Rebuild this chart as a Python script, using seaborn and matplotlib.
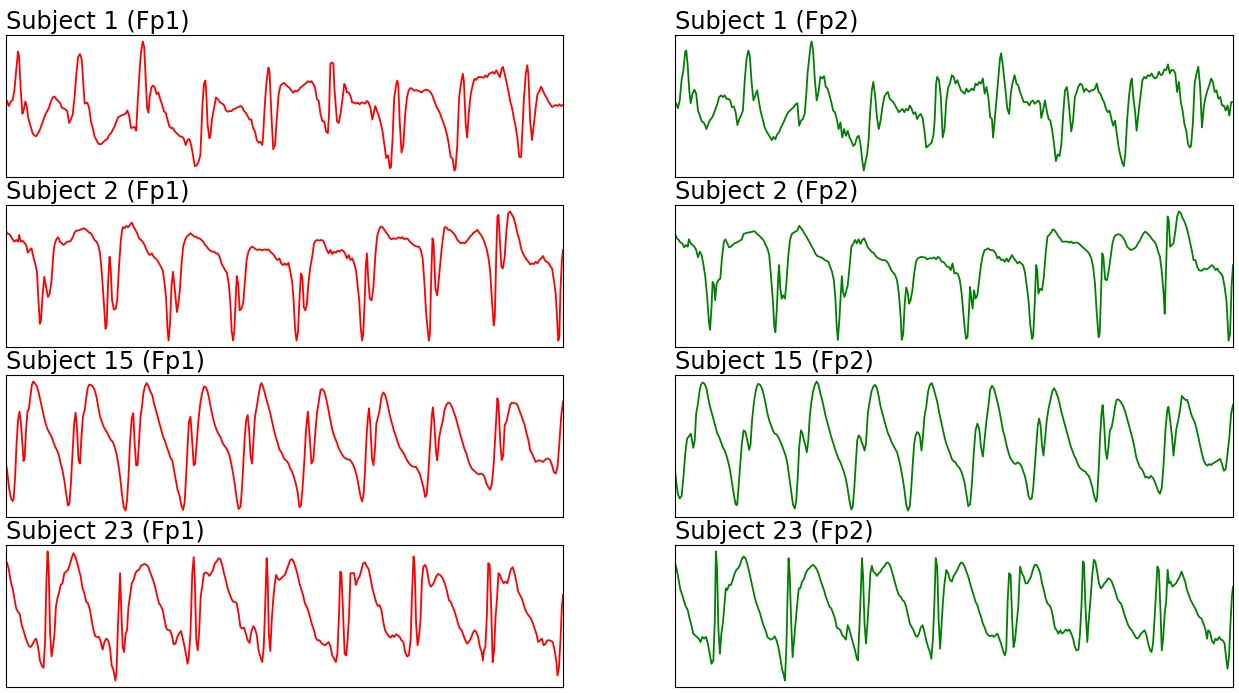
import numpy as np
import matplotlib
matplotlib.use("Agg")
import matplotlib.pyplot as plt
import seaborn as sns

# ---- data (sample index, screen depth) ----
s1_fp1_x = [17,20,25,30,35,40,45,50,53,57,62,66,70,74,78,82,86,90,95,100,105,110,115,120,125,130,135,140,145,150,155,160,165,170,175,180,185,190,195,200,205,210,215,220,225,230,233,240,245,250,255,260,265,270,275,280,285,290,295,300,305,310,315,320,325,330,335,340,345,350,355,360,365,370,374,378,383,387,392,396,400,404,408,411,416,420,425,430,435,440,445,450,455,460,465,470,475,480,485,490,495,500,505,510,515,520,525,530,535,540,545,550,553,556,560,564,567,570,575,578,582,588,593,598,605,610,615,620,625,630,635,640,645,650,655,660,665,670,675,680,685,690,695,700,705,710,715,720,722,727,732,737,740,745,750,755,760,765,770,775,780,785,790,795,800,805,810,815,820,825,830,835,840,845,850,855,860,865,870,875,880,885,890,895,900,903,907,911,915,918,925,930,935,940,945,948,952,957,962,967,972,977,982,987,992,997,1002,1007,1012,1017,1022,1026,1030,1035,1040,1045,1050,1055,1060,1065,1070,1073,1077,1082,1087,1090,1093,1097,1102,1107,1112,1117,1122,1127,1132,1137,1142,1147,1152,1157,1162,1167,1172,1177,1182,1187,1192,1197,1202,1207,1212,1217,1222,1227,1232,1237,1242,1247,1250,1255,1260,1265,1270,1273,1278,1282,1287,1292,1297,1302,1307,1312,1317,1322,1327,1332,1337,1342,1347,1352,1357,1362,1367,1372,1377,1380,1385,1390,1395,1400,1405,1410,1415,1420,1425,1430,1433,1438,1443,1447,1450,1455,1460,1465,1470,1475,1480,1485,1490,1495,1500,1505,1510,1515,1520,1525,1530,1535,1540,1545]
s1_fp1_d = [228,210,225,212,208,180,120,65,80,170,248,235,212,225,260,275,290,305,312,314,305,295,280,265,250,240,230,212,200,197,205,210,215,230,232,235,240,275,265,250,200,130,80,72,90,175,218,215,230,270,290,315,325,335,338,336,330,325,322,310,305,295,285,270,258,255,252,250,248,238,255,290,288,287,298,220,130,70,35,50,140,230,245,200,170,165,170,190,185,205,220,240,245,265,285,290,290,300,305,310,315,315,322,340,325,322,340,370,402,400,390,370,300,220,160,150,200,280,320,310,265,230,200,205,215,218,222,237,242,240,240,235,233,230,228,225,228,240,245,255,265,265,290,300,325,333,330,340,320,220,150,112,125,250,352,340,260,190,165,160,157,163,168,172,180,186,180,182,178,170,167,162,158,152,155,152,160,172,205,210,250,270,270,300,305,250,100,97,100,175,270,275,245,205,160,165,185,185,195,215,215,218,215,220,215,215,218,210,215,232,265,245,225,240,255,275,300,340,378,370,408,405,330,200,165,150,160,270,362,340,250,200,178,172,175,180,178,180,182,185,180,178,177,180,185,195,210,225,235,245,260,275,290,310,340,375,380,415,410,340,200,160,130,150,275,318,240,190,165,145,148,140,140,140,142,135,140,130,128,125,130,120,130,140,115,110,130,155,180,210,230,260,285,320,375,375,310,200,130,105,130,270,325,280,230,190,182,168,180,192,200,212,220,228,225,222,225,220,225,222]

s1_fp2_x = [17,20,25,30,35,40,45,48,52,56,60,65,70,75,80,85,90,95,100,103,108,113,118,123,128,133,138,143,148,153,158,163,168,173,178,183,188,193,198,203,208,213,218,222,227,232,237,242,247,252,257,262,267,272,277,282,287,292,297,302,307,312,317,322,327,332,337,342,347,352,357,362,367,372,376,380,384,388,391,395,400,405,410,415,420,425,430,435,440,445,450,455,460,465,470,475,480,485,490,495,500,505,510,515,520,525,530,534,538,543,547,551,556,560,565,570,575,580,585,590,595,600,605,610,615,620,625,630,635,640,645,650,655,660,665,670,675,680,685,690,695,700,705,710,715,720,725,728,732,735,740,745,750,755,760,765,770,775,780,785,790,795,800,805,810,815,820,825,830,835,840,845,850,855,860,865,870,875,880,885,888,892,898,903,907,910,914,918,922,927,932,937,942,947,952,957,962,967,972,977,982,987,992,997,1002,1007,1012,1017,1020,1025,1030,1035,1040,1045,1050,1055,1060,1065,1070,1075,1080,1085,1090,1093,1097,1102,1107,1112,1117,1122,1127,1132,1137,1142,1147,1152,1157,1162,1167,1172,1177,1182,1187,1192,1197,1202,1207,1212,1217,1222,1227,1232,1237,1242,1246,1250,1255,1260,1265,1268,1272,1277,1281,1287,1292,1297,1302,1307,1312,1317,1322,1327,1332,1337,1342,1347,1352,1357,1362,1367,1372,1377,1382,1387,1392,1397,1402,1407,1412,1417,1422,1427,1430,1435,1440,1445,1450,1455,1460,1465,1470,1475,1480,1485,1490,1495,1500,1505,1510,1515,1520,1525,1530,1535,1540,1545]
s1_fp2_d = [225,218,233,210,150,120,65,62,110,180,218,190,178,190,240,255,272,275,285,295,280,268,262,250,235,220,200,195,200,195,205,205,210,230,228,245,283,265,255,240,150,85,62,80,160,210,195,180,215,245,265,288,300,310,318,328,318,325,310,305,290,280,268,255,245,240,235,230,222,218,285,270,265,250,200,130,90,50,35,60,150,210,185,140,145,138,170,175,195,215,240,245,265,295,275,320,295,315,300,320,330,345,340,320,315,340,390,418,395,370,330,250,180,155,195,260,295,270,230,200,190,185,205,210,215,225,235,245,240,235,245,235,240,225,235,250,245,265,255,250,262,300,350,345,340,335,310,270,160,140,150,200,320,295,210,172,160,135,140,160,150,165,180,185,190,175,185,180,175,180,160,165,155,160,145,190,170,200,260,265,320,275,200,140,85,70,100,140,180,235,250,185,155,135,160,165,185,200,215,215,215,225,215,210,220,215,210,220,262,240,210,240,265,270,300,340,390,370,375,340,250,180,170,195,240,302,270,200,185,168,160,165,185,175,180,185,180,180,175,160,185,190,205,215,235,245,240,265,285,270,310,350,375,395,405,370,270,200,155,145,200,245,300,240,195,150,140,145,135,138,130,140,145,140,125,135,132,118,120,103,130,120,120,130,185,155,215,240,280,300,340,350,345,280,160,130,110,170,290,230,200,180,165,145,155,185,180,205,200,225,225,240,225,255,215,215]

s2_fp1_x = [17,20,25,30,35,40,45,50,53,57,62,67,72,77,82,87,92,97,102,106,110,113,117,122,127,132,137,142,147,150,155,160,165,170,175,180,185,190,195,200,205,210,215,220,225,230,235,240,245,250,255,260,265,270,275,280,285,290,293,297,301,304,308,313,318,322,327,332,337,342,347,352,357,362,367,372,377,382,387,392,397,402,407,412,417,422,427,432,437,442,447,452,456,460,463,467,471,475,478,482,486,490,494,498,503,508,513,518,523,528,533,538,543,548,553,558,563,568,573,578,583,588,593,598,603,608,613,618,623,628,632,636,640,643,647,650,654,658,663,668,672,677,682,687,692,697,702,707,712,717,722,727,732,737,742,747,752,757,762,767,772,777,782,787,792,797,802,806,810,814,818,822,826,830,834,838,842,847,852,857,862,867,872,877,882,887,892,897,902,907,912,917,922,927,932,937,942,947,952,957,962,967,972,977,982,986,990,994,997,1001,1004,1007,1011,1015,1020,1025,1030,1035,1040,1045,1050,1055,1060,1065,1070,1075,1080,1085,1090,1095,1100,1105,1110,1115,1120,1125,1130,1135,1140,1145,1150,1155,1160,1165,1169,1173,1177,1180,1183,1187,1190,1195,1200,1205,1210,1215,1220,1225,1230,1235,1240,1245,1250,1255,1260,1265,1270,1275,1280,1285,1290,1295,1300,1305,1310,1315,1320,1325,1330,1335,1340,1345,1350,1355,1358,1362,1365,1368,1372,1376,1380,1385,1390,1395,1400,1405,1410,1415,1420,1425,1430,1435,1440,1445,1450,1455,1460,1465,1470,1475,1480,1485,1490,1495,1500,1505,1510,1515,1520,1525,1528,1532,1535,1538,1542,1545]
s2_fp1_d = [92,100,102,108,118,125,120,125,105,125,122,128,135,158,150,145,170,190,215,300,370,360,290,230,260,290,280,240,160,135,118,112,125,130,135,130,125,125,122,112,98,92,92,90,88,85,88,92,98,100,110,120,125,135,160,220,300,385,375,250,170,200,300,328,325,300,200,120,82,85,78,82,75,68,80,90,100,115,120,125,135,148,160,165,160,170,175,180,190,200,210,250,290,385,420,370,260,215,245,290,335,310,270,200,140,120,110,105,100,105,110,110,115,115,120,125,135,140,148,152,155,155,160,160,170,190,200,210,218,250,300,390,420,395,300,228,250,330,325,305,250,180,155,145,140,143,148,150,148,150,150,148,150,148,155,160,165,175,180,175,190,195,190,195,188,215,245,300,385,420,395,300,220,230,320,330,315,245,200,170,130,122,120,122,120,122,135,150,160,150,162,155,158,152,155,150,152,160,175,165,180,175,190,210,260,300,380,420,400,300,200,160,240,295,300,260,170,110,90,80,82,90,98,105,115,118,115,117,115,112,115,112,118,115,118,125,130,135,138,140,140,150,175,250,330,380,420,400,250,115,130,265,285,230,170,120,82,82,90,90,95,100,108,120,125,130,128,130,125,118,110,105,98,95,90,98,105,115,128,145,170,210,300,375,350,160,50,45,120,200,205,170,90,40,35,45,55,75,100,118,145,160,170,178,185,193,190,192,185,190,180,175,168,180,185,188,198,205,240,280,340,420,410,270,180,150]

s2_fp2_x = [17,22,27,32,37,42,47,52,55,60,65,70,75,80,85,90,95,100,105,110,113,117,120,124,127,131,136,141,146,151,155,160,165,170,175,180,185,190,195,200,205,210,215,220,225,230,235,240,245,250,255,260,265,270,275,280,285,289,292,296,300,302,305,309,313,318,322,327,332,337,342,347,352,357,362,367,372,377,382,387,392,397,402,407,412,417,422,427,432,437,442,447,452,456,460,463,467,471,474,477,481,485,490,495,500,505,510,515,520,525,530,535,540,545,550,555,560,565,570,575,580,585,590,595,600,605,610,615,620,625,630,635,638,642,646,650,654,658,662,667,672,677,682,687,692,697,702,707,712,717,722,727,732,737,742,747,752,757,762,767,772,777,782,787,792,797,802,806,810,814,818,822,825,828,832,836,840,845,850,855,860,865,870,875,880,885,890,895,900,905,910,915,920,925,930,935,940,945,950,955,960,965,970,975,980,985,990,995,998,1002,1006,1009,1012,1017,1022,1027,1032,1037,1042,1047,1052,1057,1062,1067,1072,1077,1082,1087,1092,1097,1102,1107,1112,1117,1122,1127,1132,1137,1142,1147,1152,1157,1162,1167,1172,1177,1180,1183,1187,1190,1195,1200,1205,1210,1215,1220,1225,1230,1235,1240,1245,1250,1255,1260,1265,1270,1275,1280,1285,1290,1295,1300,1305,1310,1315,1320,1325,1330,1335,1340,1345,1350,1355,1358,1362,1366,1369,1373,1377,1382,1387,1392,1397,1402,1407,1412,1417,1422,1427,1432,1437,1442,1447,1452,1457,1462,1467,1472,1477,1482,1487,1492,1497,1502,1507,1512,1517,1522,1527,1530,1533,1537,1541,1545]
s2_fp2_d = [102,115,120,128,130,142,135,140,118,130,135,140,150,172,155,165,195,230,290,365,388,320,245,255,300,250,240,235,170,125,118,130,142,140,135,130,128,125,122,118,102,100,98,98,96,95,94,100,105,110,115,122,135,145,165,230,300,380,395,320,225,195,260,295,285,295,250,170,120,102,98,95,92,78,85,92,102,110,120,130,140,150,162,168,170,172,175,180,182,185,200,215,240,290,380,418,360,280,228,275,290,275,255,200,140,132,120,130,118,132,120,115,128,142,148,155,158,165,172,175,178,180,180,182,188,200,212,218,225,240,280,350,418,400,310,262,275,310,300,270,220,185,175,172,170,172,172,178,175,175,175,172,178,170,175,185,185,192,200,200,210,190,220,218,222,240,280,330,380,415,410,330,260,290,325,270,295,285,240,195,165,150,148,145,150,150,152,160,175,170,180,178,185,175,185,175,165,175,182,190,185,190,195,215,255,300,375,415,405,310,195,210,280,265,270,230,160,110,105,98,88,92,100,110,115,125,125,125,125,128,125,130,128,128,130,135,140,145,150,155,162,175,200,250,340,410,400,300,160,170,238,240,210,170,130,110,105,103,104,108,115,125,140,145,150,148,145,140,130,122,110,100,95,100,105,112,120,125,135,155,170,215,280,340,200,50,60,140,135,130,95,50,35,40,55,65,80,100,125,150,180,180,200,210,212,210,205,208,205,200,195,200,210,205,215,220,230,260,300,360,420,400,260,195]

s15_fp1_x = [17,20,25,30,35,38,42,46,50,54,58,62,65,68,72,76,80,84,88,92,97,102,107,112,117,122,127,132,137,142,147,152,157,162,167,172,177,182,187,191,195,200,204,208,212,216,220,224,228,233,237,241,245,250,255,260,265,270,275,280,285,290,295,300,305,310,315,320,325,330,335,340,345,349,353,357,362,366,370,374,378,382,386,390,394,398,403,408,413,418,423,428,433,438,443,448,453,458,463,468,473,478,483,488,493,498,503,507,511,515,519,523,527,532,536,540,545,550,555,560,565,570,575,580,585,590,595,600,605,610,615,620,625,630,635,640,645,650,655,660,664,668,672,676,680,684,688,692,696,700,705,710,715,718,722,727,732,737,742,747,752,757,762,767,772,777,782,787,792,797,802,807,812,817,822,826,830,835,840,845,850,855,860,865,870,875,880,885,890,895,900,905,910,915,920,925,930,935,940,945,950,955,960,965,970,975,980,985,990,994,998,1002,1006,1010,1013,1017,1021,1025,1029,1033,1038,1042,1047,1052,1057,1062,1067,1072,1077,1082,1087,1092,1097,1102,1107,1112,1117,1122,1127,1132,1137,1142,1147,1152,1157,1162,1167,1171,1175,1180,1185,1188,1192,1197,1200,1205,1210,1215,1220,1225,1230,1235,1240,1245,1250,1255,1260,1265,1270,1275,1280,1285,1290,1295,1300,1305,1310,1315,1320,1325,1330,1335,1340,1345,1350,1355,1360,1365,1368,1373,1377,1381,1385,1390,1395,1400,1405,1410,1415,1420,1425,1430,1435,1440,1445,1450,1455,1460,1465,1470,1475,1480,1485,1490,1495,1500,1505,1510,1515,1520,1525,1530,1535,1540,1545]
s15_fp1_d = [280,300,350,380,392,385,320,220,150,125,160,220,272,265,180,125,115,80,45,35,42,50,70,95,120,145,165,180,190,200,215,230,240,255,280,300,330,370,405,400,340,240,160,128,180,270,280,200,140,120,85,55,45,45,50,60,80,110,140,155,170,180,188,200,210,215,230,250,280,320,370,410,420,390,320,220,145,130,220,285,285,210,140,110,70,50,40,50,65,75,100,120,140,160,180,200,212,230,245,262,270,300,330,360,375,405,418,395,320,230,155,140,200,285,280,220,150,100,70,50,52,65,90,120,145,165,180,192,200,215,225,232,242,255,280,310,345,385,415,410,360,280,200,150,135,180,260,280,210,140,110,75,45,40,50,70,90,110,130,155,180,200,218,238,245,258,268,272,280,295,305,320,340,365,410,405,360,280,180,125,200,280,270,195,130,95,60,58,65,85,110,140,168,190,205,218,235,245,255,262,265,268,268,275,285,300,320,350,380,393,370,300,200,140,115,175,265,285,240,160,140,120,80,68,75,95,120,145,165,185,200,218,232,240,248,258,270,278,285,288,290,290,300,310,330,350,380,372,320,230,140,112,160,250,270,205,175,155,120,105,98,100,110,125,140,160,180,200,218,238,250,270,285,295,300,305,310,312,310,312,320,340,350,358,340,280,180,85,100,220,270,255,165,155,130,105,98,100,100,105,120,135,150,165,190,210,240,250,262,275,272,270,272,275,270,265,265,270,285,305,310,290,220,140,95]

s15_fp2_x = [17,20,25,30,35,40,45,50,55,60,63,67,71,75,80,84,88,93,98,103,108,113,118,123,128,133,138,143,148,153,158,163,168,173,178,183,187,191,195,200,205,210,215,220,224,228,233,237,241,245,250,255,260,265,270,275,280,285,290,295,300,305,310,315,320,325,330,335,340,345,349,353,357,362,366,370,374,378,382,386,390,395,400,405,410,415,420,425,430,435,440,445,450,455,460,465,470,475,480,485,490,495,500,504,508,512,516,520,524,528,532,536,540,545,550,555,560,565,570,575,580,585,590,595,600,605,610,615,620,625,630,635,640,645,650,655,660,664,668,672,676,680,684,688,692,696,700,705,710,715,720,725,730,735,740,745,750,755,760,765,770,775,780,785,790,795,800,805,810,815,820,825,830,835,840,845,850,855,860,865,870,875,880,885,890,895,900,905,910,915,920,925,930,935,940,945,950,955,960,965,970,975,980,985,990,994,998,1002,1006,1010,1014,1018,1022,1026,1030,1035,1040,1045,1050,1055,1060,1065,1070,1075,1080,1085,1090,1095,1100,1105,1110,1115,1120,1125,1130,1135,1140,1145,1150,1155,1160,1165,1170,1173,1177,1181,1185,1188,1192,1196,1200,1204,1208,1213,1218,1222,1226,1230,1235,1240,1245,1250,1255,1260,1265,1270,1275,1280,1285,1290,1295,1300,1305,1310,1315,1320,1325,1330,1335,1340,1345,1350,1355,1360,1365,1368,1373,1378,1382,1386,1390,1395,1400,1405,1410,1415,1420,1425,1430,1435,1440,1445,1450,1455,1460,1465,1470,1475,1480,1485,1490,1495,1500,1505,1510,1515,1520,1525,1530,1535,1540,1545]
s15_fp2_d = [295,330,370,382,375,320,250,205,198,190,205,232,210,130,100,65,45,38,42,55,85,110,130,150,170,190,200,215,230,240,255,275,300,335,370,400,402,350,290,220,180,185,210,238,220,150,100,70,50,42,45,55,75,100,130,150,165,180,190,192,200,212,225,240,255,280,320,360,400,412,390,320,230,180,188,210,225,245,210,140,100,65,45,35,45,70,90,115,140,160,180,200,218,235,250,265,275,290,305,325,355,390,415,405,350,280,210,195,200,215,225,240,220,130,95,65,50,45,55,80,110,130,150,170,188,200,215,225,235,245,265,290,320,355,400,418,405,350,280,220,195,185,188,200,240,200,140,110,65,45,40,55,75,95,125,150,175,200,220,235,248,265,272,275,285,290,300,315,335,370,405,400,340,250,180,160,175,230,258,205,150,110,60,48,55,75,95,120,150,180,200,225,245,262,270,278,280,275,278,285,300,315,340,375,385,382,350,290,230,170,145,165,225,255,210,150,115,90,65,55,65,80,100,125,145,165,185,205,225,240,255,265,280,290,295,300,302,310,315,330,350,375,392,380,300,200,130,105,160,240,265,230,180,170,140,110,90,88,92,100,110,125,145,165,185,205,230,260,275,290,295,305,320,318,322,315,320,330,345,360,368,350,280,180,120,110,150,200,255,215,175,150,120,78,85,90,90,110,130,145,155,175,200,225,250,270,280,285,280,283,278,275,272,268,265,280,300,295,250,200,130,105]

s23_fp1_x = [17,20,25,30,35,40,45,50,55,60,65,70,75,80,85,90,95,100,105,110,115,120,124,128,131,134,138,142,146,150,154,158,162,167,172,177,182,187,192,197,202,207,212,217,222,227,232,237,242,247,252,257,262,267,272,277,282,287,292,297,302,307,312,317,320,324,328,330,333,337,341,345,349,353,357,362,367,372,377,382,387,392,397,402,407,412,417,422,427,432,437,442,447,452,457,462,467,472,477,482,487,492,497,502,507,512,515,518,523,528,532,535,539,543,547,551,556,560,565,570,575,580,585,590,595,600,605,610,615,620,625,630,635,640,645,650,655,660,665,670,675,680,685,690,695,700,705,710,715,720,724,728,732,735,738,742,746,750,754,758,762,767,772,777,782,787,792,797,802,807,812,817,822,827,832,837,842,847,852,857,862,867,872,877,882,887,892,897,902,907,912,917,922,926,930,934,937,941,946,950,954,958,962,967,972,977,982,987,992,997,1002,1007,1012,1017,1022,1027,1032,1037,1042,1047,1052,1057,1062,1067,1072,1077,1082,1087,1092,1097,1102,1107,1112,1117,1122,1127,1131,1135,1138,1142,1146,1150,1154,1158,1162,1167,1172,1177,1182,1187,1192,1197,1202,1207,1212,1217,1222,1227,1232,1237,1242,1247,1252,1257,1262,1267,1272,1277,1282,1287,1292,1297,1302,1307,1312,1317,1322,1325,1328,1332,1336,1340,1344,1348,1352,1356,1360,1364,1368,1372,1377,1382,1387,1392,1397,1402,1407,1412,1417,1422,1427,1432,1437,1442,1447,1452,1457,1462,1467,1472,1477,1482,1487,1492,1497,1502,1507,1512,1517,1522,1527,1530,1534,1538,1542,1545]
s23_fp1_d = [70,68,90,125,145,175,205,215,222,255,270,290,305,318,320,312,300,295,320,360,375,382,310,120,35,80,280,348,320,280,200,175,160,135,130,100,95,90,75,55,40,50,68,90,110,145,160,185,190,208,240,270,288,290,290,305,328,305,295,300,320,375,390,420,395,260,150,100,200,320,335,280,270,200,170,130,120,100,92,90,78,75,72,75,80,95,110,125,145,170,190,198,210,240,265,270,270,285,312,310,290,280,272,295,320,350,370,355,280,100,52,120,300,330,275,170,135,100,98,100,108,100,90,70,65,55,58,75,100,120,145,160,175,185,185,190,220,260,265,262,280,300,308,275,258,265,285,330,350,365,320,200,55,120,280,332,240,180,135,105,115,120,115,110,105,90,75,60,58,68,85,105,130,148,165,190,200,215,235,255,270,293,300,300,308,312,315,310,305,318,345,355,365,340,240,95,100,200,340,345,300,230,100,100,100,135,118,110,90,70,68,80,88,115,145,165,185,198,195,210,245,270,280,288,292,285,290,282,285,290,300,305,335,348,345,300,160,50,80,250,315,290,240,120,80,75,90,125,140,135,125,110,102,105,110,120,135,155,180,185,200,212,230,250,265,270,285,300,310,305,295,280,270,275,290,320,335,360,330,320,230,70,75,200,365,330,230,175,100,105,120,130,125,130,110,88,82,100,125,155,165,175,192,210,220,228,235,248,265,280,305,300,295,315,310,300,300,302,305,330,365,405,380,300,200,165]

s23_fp2_x = [17,22,27,32,37,42,47,52,57,62,67,72,77,82,87,92,97,102,107,112,117,122,126,129,132,136,140,144,148,152,156,160,165,170,175,180,185,190,195,200,205,210,215,220,225,230,235,240,245,250,255,260,265,270,275,280,285,290,295,300,305,310,315,318,322,325,328,331,335,339,343,347,351,356,360,365,370,375,380,385,390,395,400,405,410,415,420,425,430,435,440,445,450,455,460,465,470,475,480,485,490,495,500,505,510,515,518,522,526,529,532,536,540,544,548,552,556,560,565,570,575,580,585,590,595,600,605,610,615,620,625,630,635,640,645,650,655,660,665,670,675,680,685,690,695,700,705,710,715,719,723,727,731,735,739,743,747,751,755,760,765,770,775,780,785,790,795,800,805,810,815,820,825,830,835,840,845,850,855,860,865,870,875,880,885,890,895,900,905,910,915,920,924,928,932,936,940,944,948,952,957,962,967,972,977,982,987,992,997,1002,1007,1012,1017,1022,1027,1032,1037,1042,1047,1052,1057,1062,1067,1072,1077,1082,1087,1092,1097,1102,1107,1112,1117,1122,1126,1130,1134,1137,1141,1146,1150,1155,1160,1164,1168,1173,1178,1183,1188,1193,1198,1203,1208,1213,1218,1223,1228,1233,1238,1243,1248,1253,1258,1263,1268,1273,1278,1283,1288,1293,1298,1303,1308,1313,1318,1322,1326,1330,1334,1338,1342,1346,1350,1354,1358,1362,1366,1370,1374,1379,1384,1389,1394,1399,1404,1409,1414,1419,1424,1429,1434,1439,1444,1449,1454,1459,1464,1469,1474,1477,1482,1487,1492,1497,1502,1507,1512,1517,1522,1527,1530,1534,1538,1542,1545]
s23_fp2_d = [70,90,120,150,165,185,200,210,235,255,280,285,290,295,305,290,295,290,310,340,370,360,240,35,80,270,340,280,250,200,145,150,135,135,120,102,90,85,75,58,50,55,72,95,120,145,170,190,205,220,240,258,270,290,295,298,295,288,300,320,350,385,405,420,320,180,55,100,240,350,300,250,200,145,145,125,118,100,90,85,78,75,80,88,100,120,135,150,170,185,200,205,220,235,262,265,270,285,290,298,255,270,290,310,330,355,360,260,150,55,110,250,310,250,180,100,78,95,100,108,100,95,85,80,70,68,75,90,110,130,150,165,170,180,185,200,225,250,260,270,285,290,280,262,255,275,300,320,335,355,300,200,55,80,240,325,250,180,130,90,100,120,125,108,100,90,78,68,70,80,95,110,130,148,165,185,195,215,230,250,262,278,285,288,285,290,285,280,295,310,330,345,330,180,100,105,230,320,300,255,200,80,100,110,130,130,120,110,90,75,75,85,100,130,150,175,190,195,205,230,262,270,280,270,280,275,268,272,268,280,295,320,330,328,280,200,65,70,200,305,240,175,100,60,65,95,130,145,140,130,125,115,118,125,140,155,175,185,190,205,225,240,255,265,270,280,290,295,290,280,275,270,285,310,330,335,310,240,160,80,90,200,330,290,220,185,90,130,125,140,135,130,120,110,95,110,125,150,165,180,190,200,210,225,232,235,250,265,295,270,275,300,310,295,300,290,298,300,310,360,385,350,250,170,140]

titles = ["Subject 1 (Fp1)", "Subject 1 (Fp2)",
          "Subject 2 (Fp1)", "Subject 2 (Fp2)",
          "Subject 15 (Fp1)", "Subject 15 (Fp2)",
          "Subject 23 (Fp1)", "Subject 23 (Fp2)"]
series = [(s1_fp1_x, s1_fp1_d), (s1_fp2_x, s1_fp2_d),
          (s2_fp1_x, s2_fp1_d), (s2_fp2_x, s2_fp2_d),
          (s15_fp1_x, s15_fp1_d), (s15_fp2_x, s15_fp2_d),
          (s23_fp1_x, s23_fp1_d), (s23_fp2_x, s23_fp2_d)]
colors = ["red", "green"]

# ---- figure ----
W, H = 1239, 693
fig = plt.figure(figsize=(W / 100, H / 100), dpi=100)
col_left = [6, 675]
col_w = [557, 558]
row_top = [35, 205, 375, 545]
row_h = 142

for i, (title, (xs, ds)) in enumerate(zip(titles, series)):
    r, c = divmod(i, 2)
    ax = fig.add_axes([col_left[c] / W, (H - row_top[r] - row_h) / H,
                       col_w[c] / W, row_h / H])
    amp = 440 - np.asarray(ds, dtype=float)   # screen depth -> amplitude
    sns.lineplot(x=np.asarray(xs), y=amp, ax=ax, color=colors[c],
                 linewidth=1.3, estimator=None, sort=False)
    ax.margins(x=0)
    ax.set_xticks([])
    ax.set_yticks([])
    ax.set_xlabel("")
    ax.set_ylabel("")
    for sp in ax.spines.values():
        sp.set_linewidth(0.8)
        sp.set_color("black")
    ax.set_title(title, loc="left", fontsize=17.25, pad=4.3)

fig.savefig("out.png", dpi=100)
